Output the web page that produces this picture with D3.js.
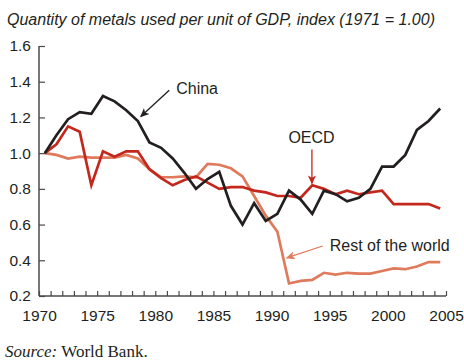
<!DOCTYPE html>
<html>
<head>
<meta charset="utf-8">
<script src="https://cdn.jsdelivr.net/npm/d3@7"></script>
<style>
  html, body { margin: 0; padding: 0; background: #fff; }
  svg { display: block; }
</style>
</head>
<body>
<svg id="chart" width="464" height="363"></svg>
<script>
// ---------- data ----------
const years = [1971,1972,1973,1974,1975,1976,1977,1978,1979,1980,1981,1982,1983,1984,1985,1986,1987,1988,1989,1990,1991,1992,1993,1994,1995,1996,1997,1998,1999,2000,2001,2002,2003,2004,2005];
const china = [1.00,1.10,1.19,1.23,1.22,1.32,1.29,1.24,1.18,1.06,1.03,0.97,0.89,0.80,0.855,0.895,0.705,0.60,0.72,0.62,0.66,0.79,0.74,0.66,0.79,0.77,0.73,0.75,0.80,0.925,0.925,0.99,1.13,1.18,1.25];
const oecd  = [1.00,1.05,1.15,1.12,0.82,1.01,0.98,1.01,1.01,0.91,0.86,0.82,0.85,0.87,0.835,0.80,0.81,0.81,0.79,0.78,0.76,0.76,0.75,0.82,0.80,0.77,0.79,0.77,0.78,0.79,0.715,0.715,0.715,0.715,0.69];
const rest  = [1.00,0.99,0.97,0.98,0.975,0.975,0.975,0.99,0.97,0.91,0.865,0.865,0.87,0.865,0.94,0.935,0.915,0.87,0.76,0.65,0.56,0.27,0.285,0.29,0.33,0.32,0.33,0.325,0.325,0.34,0.355,0.35,0.365,0.39,0.39];
const yTicks = [0.2,0.4,0.6,0.8,1.0,1.2,1.4,1.6];
const xTicks = [1970,1971,1972,1973,1974,1975,1976,1977,1978,1979,1980,1981,1982,1983,1984,1985,1986,1987,1988,1989,1990,1991,1992,1993,1994,1995,1996,1997,1998,1999,2000,2001,2002,2003,2004,2005];
const xLabels = [1970,1975,1980,1985,1990,1995,2000,2005];
const seriesNames = ["China","OECD","Rest of the world"];

const title = "Quantity of metals used per unit of GDP, index (1971 = 1.00)";

// ---------- layout ----------
const colors = { "China": "#231f20", "OECD": "#c4281d", "Rest of the world": "#df7a5c" };
const svg = d3.select("#chart");
const font = "'Liberation Sans', Arial, Helvetica, sans-serif";

const x = d3.scaleLinear().domain([1970, 2005]).range([39, 446]);
// data points sit half a year to the left of the axis ticks in the original
const xData = d3.scaleLinear().domain([1970.5, 2005.5]).range([x(1970), x(2005)]);
const y = d3.scaleLinear().domain([0.2, 1.6]).range([296, 46]);

// title
svg.append("text")
  .attr("x", 7).attr("y", 25)
  .attr("font-family", font).attr("font-style", "italic")
  .attr("font-size", 16).attr("fill", "#231f20")
  .text(title);

// y axis
const yAxis = svg.append("g")
  .attr("transform", `translate(${x(1970)},0)`)
  .call(d3.axisLeft(y).tickValues(yTicks).tickFormat(d3.format(".1f")).tickSize(-6).tickPadding(8));
// x axis
const xAxis = svg.append("g")
  .attr("transform", `translate(0,${y(0.2)})`)
  .call(d3.axisBottom(x).tickValues(xTicks)
    .tickFormat(d => xLabels.includes(d) ? String(d) : "")
    .tickSize(-5).tickPadding(14));

[yAxis, xAxis].forEach(g => {
  g.select(".domain").attr("stroke", "#4a4a4a").attr("stroke-width", 1.5);
  g.selectAll(".tick line").attr("stroke", "#4a4a4a").attr("stroke-width", 1.2);
  g.selectAll("text").attr("font-family", font).attr("font-size", 15.5).attr("fill", "#231f20");
});
yAxis.select(".domain").attr("d", `M0,${y(1.6)}V${y(0.2)}`);
xAxis.select(".domain").attr("d", `M${x(1970)},0H${x(2005)}`);

// lines
const seriesData = [
  { name: "Rest of the world", values: rest },
  { name: "OECD", values: oecd },
  { name: "China", values: china }
];
const line = d3.line()
  .x((d, i) => xData(years[i]))
  .y(d => y(d))
  .curve(d3.curveLinear);

svg.append("g").selectAll("path")
  .data(seriesData)
  .join("path")
  .attr("fill", "none")
  .attr("stroke", d => colors[d.name])
  .attr("stroke-width", 2.7)
  .attr("stroke-linejoin", "miter")
  .attr("d", d => line(d.values));

// annotations (in data coordinates)
const annLabels = [
  { name: "China", year: 1981.8, value: 1.33 },
  { name: "OECD", year: 1991.45, value: 1.057 },
  { name: "Rest of the world", year: 1995.0, value: 0.452 }
];
const annArrows = [
  { name: "China", from: [1981.2, 1.352], to: [1978.75, 1.205] },
  { name: "OECD", from: [1993.47, 1.02], to: [1993.47, 0.83] },
  { name: "Rest of the world", from: [1994.4, 0.48], to: [1991.3, 0.413] }
];

const defs = svg.append("defs");
seriesNames.forEach((n, i) => {
  defs.append("marker")
    .attr("id", "arrow" + i)
    .attr("viewBox", "0 0 10 10")
    .attr("refX", 9).attr("refY", 5)
    .attr("markerWidth", 9).attr("markerHeight", 9)
    .attr("markerUnits", "userSpaceOnUse")
    .attr("orient", "auto")
    .append("path")
    .attr("d", "M0,0.5 L10,5 L0,9.5 L2.5,5 Z")
    .attr("fill", colors[n]);
});

svg.append("g").selectAll("line")
  .data(annArrows)
  .join("line")
  .attr("x1", d => x(d.from[0])).attr("y1", d => y(d.from[1]))
  .attr("x2", d => x(d.to[0])).attr("y2", d => y(d.to[1]))
  .attr("stroke", d => colors[d.name])
  .attr("stroke-width", 1.3)
  .attr("marker-end", d => "url(#arrow" + seriesNames.indexOf(d.name) + ")");

svg.append("g").selectAll("text")
  .data(annLabels)
  .join("text")
  .attr("x", d => x(d.year)).attr("y", d => y(d.value))
  .attr("font-family", font).attr("font-size", 16).attr("fill", "#231f20")
  .text(d => d.name);

// source
const src = svg.append("text")
  .attr("x", 5).attr("y", 357)
  .attr("font-family", "'Liberation Serif', 'Times New Roman', serif")
  .attr("font-size", 17).attr("fill", "#231f20");
src.append("tspan").attr("font-style", "italic").text("Source:");
src.append("tspan").text(" World Bank.");
</script>
</body>
</html>
